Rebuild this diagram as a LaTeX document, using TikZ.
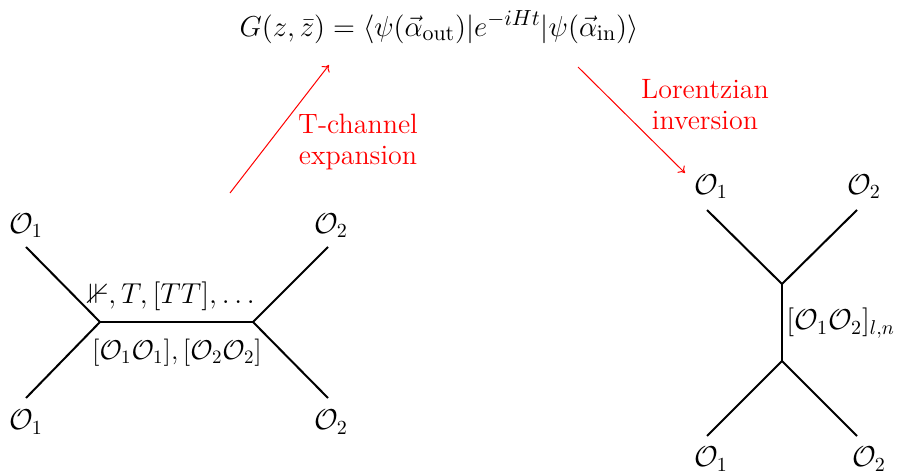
\documentclass[tikz,border=0pt]{standalone}
\usepackage{amsmath,amssymb}
\usetikzlibrary{arrows.meta}
\begin{document}
\begin{tikzpicture}[x=0.5pt,y=-0.5pt,
  lbl/.style={inner sep=0pt,font=\fontsize{14}{17}\selectfont},
  leg/.style={line width=1pt,black},
  redarr/.style={red,line width=0.5pt,-{To[length=3pt,width=5pt]}},
  redtxt/.style={red,align=center,inner sep=0pt,font=\fontsize{14}{15.5}\selectfont}]
\useasboundingbox (0,0) rectangle (899,475);
% formula
\node[lbl,font=\fontsize{15.1}{18}\selectfont] (F) at (439,27) {$G(z,\bar z)=\langle\psi(\vec\alpha_{\mathrm{out}})|e^{-iHt}|\psi(\vec\alpha_{\mathrm{in}})\rangle$};
% left diagram
\coordinate (L1) at (100,322);
\coordinate (L2) at (253,322);
\coordinate (a1) at (26,247);
\coordinate (a2) at (26,398);
\coordinate (a3) at (328,247);
\coordinate (a4) at (328,398);
\node[lbl] (o1) at (26,226) {$\mathcal{O}_1$};
\node[lbl] (o2) at (26,422) {$\mathcal{O}_1$};
\node[lbl] (o3) at (331,226) {$\mathcal{O}_2$};
\node[lbl] (o4) at (331,422) {$\mathcal{O}_2$};
\draw[leg] (a1) -- (L1) -- (a2);
\draw[leg] (a3) -- (L2) -- (a4);
\draw[leg] (L1) -- (L2);
\node[lbl] (top) at (174,296) {$\nVdash,T,[TT],\dots$};
\node[lbl] (bot) at (177,353) {\scalebox{0.945}{$[\mathcal{O}_1\mathcal{O}_1],[\mathcal{O}_2\mathcal{O}_2]$}};
% right diagram
\coordinate (R1) at (782,284);
\coordinate (R2) at (782,361);
\coordinate (b1) at (707,210);
\coordinate (b2) at (857,210);
\coordinate (b3) at (707,436);
\coordinate (b4) at (857,436);
\node[lbl] (p1) at (711,187) {$\mathcal{O}_1$};
\node[lbl] (p2) at (864,187) {$\mathcal{O}_2$};
\node[lbl] (p3) at (711,459) {$\mathcal{O}_1$};
\node[lbl] (p4) at (869,459) {$\mathcal{O}_2$};
\draw[leg] (b1) -- (R1) -- (b2);
\draw[leg] (b3) -- (R2) -- (b4);
\draw[leg] (R1) -- (R2);
\node[lbl,anchor=west] (mid) at (786,323) {$[\mathcal{O}_1\mathcal{O}_2]_{l,n}$};
% red arrows
\coordinate (s1) at (230,193);
\coordinate (e1) at (329,65);
\coordinate (s2) at (578,67);
\coordinate (e2) at (685,173);
\draw[redarr] (s1) -- (e1);
\draw[redarr] (s2) -- (e2);
\node[redtxt] (t1) at (358,142) {T-channel\\expansion};
\node[redtxt] (t2) at (705,105) {Lorentzian\\inversion};
\end{tikzpicture}
\end{document}
